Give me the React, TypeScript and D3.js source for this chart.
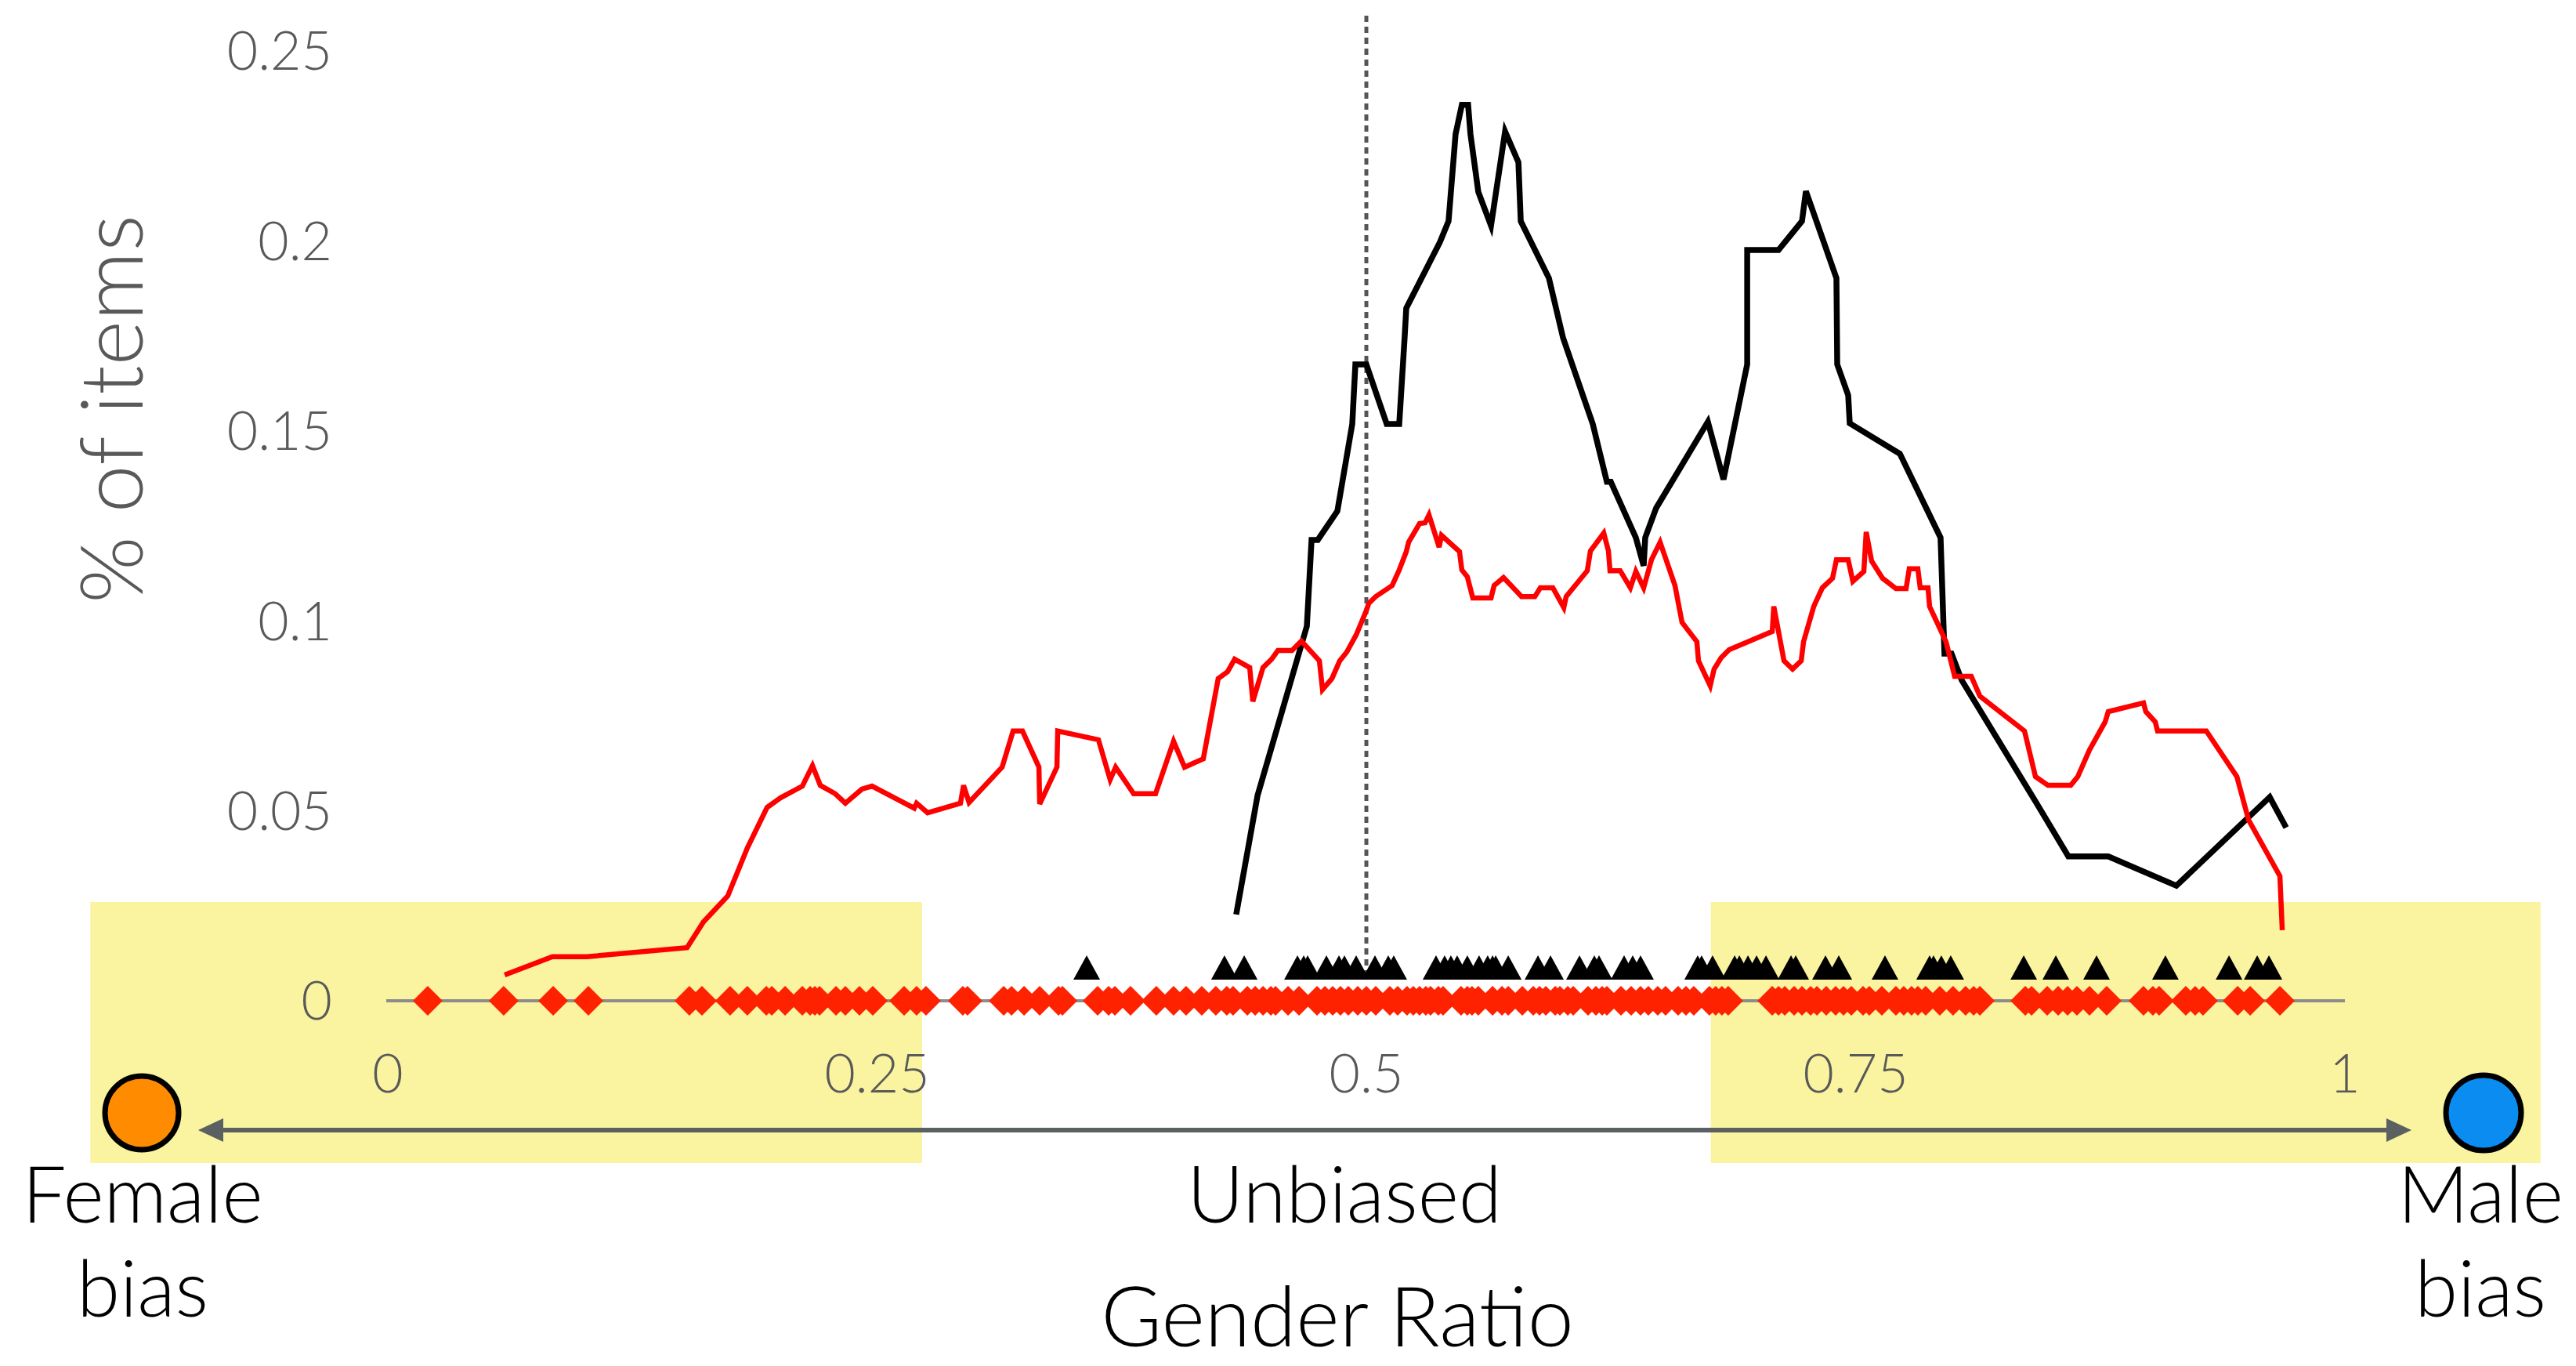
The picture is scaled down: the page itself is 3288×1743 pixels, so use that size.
import React from 'react';
import * as d3 from 'd3';

// red series: gender ratio (x) and share of items (y)
const redRatio = [0.0597, 0.0841, 0.1017, 0.1529, 0.1613, 0.1737, 0.1837, 0.1938, 0.2006, 0.2118, 0.2170, 0.2210, 0.2286, 0.2338, 0.2422, 0.2474, 0.2690, 0.2702, 0.2758, 0.2926, 0.2942, 0.2970, 0.3139, 0.3195, 0.3243, 0.3327, 0.3331, 0.3419, 0.3423, 0.3631, 0.3691, 0.3719, 0.3811, 0.3923, 0.4015, 0.4071, 0.4167, 0.4243, 0.4291, 0.4327, 0.4404, 0.4420, 0.4472, 0.4516, 0.4548, 0.4620, 0.4668, 0.4760, 0.4776, 0.4824, 0.4864, 0.4900, 0.4948, 0.5000, 0.5012, 0.5048, 0.5132, 0.5168, 0.5204, 0.5216, 0.5272, 0.5300, 0.5320, 0.5372, 0.5384, 0.5476, 0.5488, 0.5516, 0.5544, 0.5637, 0.5653, 0.5701, 0.5793, 0.5861, 0.5889, 0.5953, 0.6009, 0.6021, 0.6129, 0.6145, 0.6213, 0.6237, 0.6245, 0.6297, 0.6349, 0.6377, 0.6417, 0.6457, 0.6501, 0.6577, 0.6613, 0.6689, 0.6697, 0.6757, 0.6777, 0.6813, 0.6854, 0.7074, 0.7082, 0.7134, 0.7178, 0.7222, 0.7234, 0.7286, 0.7330, 0.7382, 0.7402, 0.7462, 0.7486, 0.7542, 0.7554, 0.7582, 0.7638, 0.7706, 0.7758, 0.7774, 0.7818, 0.7830, 0.7870, 0.7878, 0.7962, 0.8006, 0.8091, 0.8135, 0.8363, 0.8419, 0.8483, 0.8599, 0.8635, 0.8695, 0.8775, 0.8791, 0.8971, 0.8983, 0.9031, 0.9043, 0.9292, 0.9448, 0.9508, 0.9668, 0.9680];
const redShare = [0.0068, 0.0116, 0.0116, 0.0140, 0.0208, 0.0276, 0.0402, 0.0509, 0.0534, 0.0565, 0.0619, 0.0567, 0.0545, 0.0520, 0.0557, 0.0565, 0.0507, 0.0520, 0.0495, 0.0520, 0.0567, 0.0522, 0.0615, 0.0710, 0.0710, 0.0615, 0.0518, 0.0615, 0.0710, 0.0687, 0.0582, 0.0615, 0.0545, 0.0545, 0.0683, 0.0615, 0.0637, 0.0848, 0.0866, 0.0899, 0.0877, 0.0788, 0.0877, 0.0899, 0.0922, 0.0922, 0.0947, 0.0895, 0.0819, 0.0848, 0.0895, 0.0918, 0.0963, 0.1027, 0.1046, 0.1064, 0.1093, 0.1134, 0.1182, 0.1207, 0.1256, 0.1258, 0.1279, 0.1194, 0.1225, 0.1182, 0.1134, 0.1116, 0.1060, 0.1060, 0.1093, 0.1114, 0.1064, 0.1064, 0.1087, 0.1087, 0.1035, 0.1064, 0.1132, 0.1184, 0.1231, 0.1184, 0.1132, 0.1132, 0.1087, 0.1130, 0.1087, 0.1161, 0.1207, 0.1093, 0.0996, 0.0945, 0.0895, 0.0829, 0.0873, 0.0903, 0.0924, 0.0972, 0.1038, 0.0895, 0.0873, 0.0895, 0.0945, 0.1038, 0.1087, 0.1112, 0.1161, 0.1161, 0.1104, 0.1130, 0.1234, 0.1157, 0.1112, 0.1085, 0.1085, 0.1137, 0.1137, 0.1087, 0.1087, 0.1038, 0.0945, 0.0854, 0.0854, 0.0802, 0.0710, 0.0590, 0.0567, 0.0567, 0.0590, 0.0660, 0.0734, 0.0761, 0.0784, 0.0761, 0.0734, 0.0710, 0.0710, 0.0590, 0.0476, 0.0328, 0.0186];

// black series
const blackRatio = [0.4335, 0.4444, 0.4696, 0.4720, 0.4752, 0.4852, 0.4928, 0.4944, 0.5000, 0.5104, 0.5168, 0.5196, 0.5204, 0.5376, 0.5420, 0.5456, 0.5488, 0.5520, 0.5532, 0.5572, 0.5637, 0.5709, 0.5777, 0.5789, 0.5933, 0.6005, 0.6157, 0.6229, 0.6249, 0.6377, 0.6417, 0.6425, 0.6481, 0.6745, 0.6825, 0.6946, 0.6946, 0.7106, 0.7226, 0.7246, 0.7402, 0.7406, 0.7462, 0.7470, 0.7706, 0.7726, 0.7934, 0.7954, 0.7990, 0.8042, 0.8427, 0.8587, 0.8791, 0.9139, 0.9616, 0.9700];
const blackShare = [0.0227, 0.0540, 0.0986, 0.1213, 0.1213, 0.1289, 0.1518, 0.1675, 0.1675, 0.1518, 0.1518, 0.1749, 0.1823, 0.1997, 0.2052, 0.2281, 0.2358, 0.2358, 0.2281, 0.2129, 0.2040, 0.2288, 0.2207, 0.2052, 0.1902, 0.1745, 0.1518, 0.1366, 0.1366, 0.1219, 0.1145, 0.1219, 0.1297, 0.1524, 0.1372, 0.1675, 0.1976, 0.1976, 0.2052, 0.2131, 0.1902, 0.1675, 0.1594, 0.1520, 0.1446, 0.1440, 0.1219, 0.0914, 0.0914, 0.0844, 0.0518, 0.0380, 0.0380, 0.0303, 0.0536, 0.0456];

// individual items on the ratio axis
const redItems = [0.0204, 0.0592, 0.0845, 0.1025, 0.1541, 0.1605, 0.1749, 0.1837, 0.1934, 0.1962, 0.2030, 0.2118, 0.2158, 0.2182, 0.2206, 0.2290, 0.2338, 0.2410, 0.2478, 0.2638, 0.2702, 0.2750, 0.2938, 0.2962, 0.3147, 0.3187, 0.3251, 0.3331, 0.3427, 0.3447, 0.3627, 0.3683, 0.3715, 0.3795, 0.3927, 0.4015, 0.4079, 0.4159, 0.4231, 0.4287, 0.4319, 0.4392, 0.4432, 0.4472, 0.4512, 0.4536, 0.4600, 0.4656, 0.4748, 0.4788, 0.4828, 0.4868, 0.4908, 0.4956, 0.5000, 0.5048, 0.5120, 0.5160, 0.5208, 0.5240, 0.5272, 0.5304, 0.5328, 0.5368, 0.5392, 0.5484, 0.5516, 0.5540, 0.5572, 0.5645, 0.5693, 0.5725, 0.5797, 0.5853, 0.5885, 0.5917, 0.5965, 0.5989, 0.6029, 0.6057, 0.6133, 0.6173, 0.6205, 0.6229, 0.6301, 0.6353, 0.6401, 0.6441, 0.6489, 0.6529, 0.6593, 0.6633, 0.6673, 0.6753, 0.6785, 0.6817, 0.6849, 0.7074, 0.7106, 0.7138, 0.7186, 0.7226, 0.7270, 0.7302, 0.7350, 0.7398, 0.7438, 0.7478, 0.7538, 0.7570, 0.7634, 0.7706, 0.7746, 0.7786, 0.7818, 0.7858, 0.7930, 0.7998, 0.8062, 0.8103, 0.8135, 0.8367, 0.8399, 0.8479, 0.8535, 0.8583, 0.8631, 0.8695, 0.8783, 0.8971, 0.9019, 0.9051, 0.9187, 0.9235, 0.9275, 0.9452, 0.9516, 0.9668];
const blackItems = [0.3571, 0.4275, 0.4376, 0.4648, 0.4680, 0.4700, 0.4796, 0.4860, 0.4888, 0.4948, 0.5044, 0.5112, 0.5140, 0.5356, 0.5400, 0.5432, 0.5464, 0.5516, 0.5576, 0.5620, 0.5645, 0.5661, 0.5725, 0.5877, 0.5941, 0.6089, 0.6165, 0.6189, 0.6317, 0.6361, 0.6401, 0.6693, 0.6713, 0.6769, 0.6882, 0.6906, 0.6950, 0.6994, 0.7042, 0.7170, 0.7194, 0.7346, 0.7414, 0.7650, 0.7878, 0.7898, 0.7938, 0.7986, 0.8359, 0.8523, 0.8731, 0.9083, 0.9408, 0.9552, 0.9612];

const yTicks = [0, 0.05, 0.1, 0.15, 0.2, 0.25];
const yTickLabels = ['0', '0.05', '0.1', '0.15', '0.2', '0.25'];
const xTicks = [0, 0.25, 0.5, 0.75, 1];
const xTickLabels = ['0', '0.25', '0.5', '0.75', '1'];
const biasZones = [[-0.152, 0.273], [0.676, 1.100]];

const W = 3288;
const H = 1743;
const FONT = 'Lato, "Open Sans", sans-serif';

export default function App() {
  const x = d3.scaleLinear().domain([0, 1]).range([495, 2993]);
  const y = d3.scaleLinear().domain([0, 0.25]).range([1277, 65]);
  const y0 = y(0);

  const line = d3.line<[number, number]>()
    .x(d => x(d[0]))
    .y(d => y(d[1]));

  const redPath = line(redRatio.map((r, i) => [r, redShare[i]] as [number, number]));
  const blackPath = line(blackRatio.map((r, i) => [r, blackShare[i]] as [number, number]));

  const diamond = (cx: number, cy: number, s: number) =>
    `M${cx},${cy - s}L${cx + s},${cy}L${cx},${cy + s}L${cx - s},${cy}Z`;
  const triangle = (cx: number, base: number, hw: number, h: number) =>
    `M${cx - hw},${base}L${cx},${base - h}L${cx + hw},${base}Z`;

  const arrowY = 1442;
  const arrowL = 253;
  const arrowR = 3078;

  return (
    <svg width={W} height={H} style={{ position: 'absolute', left: 0, top: 0, display: 'block', background: '#fff' }}>
      {/* bias zones */}
      {biasZones.map((z, i) => (
        <rect key={i} x={x(z[0])} y={1151} width={x(z[1]) - x(z[0])} height={333} fill="#faf3a0" />
      ))}

      {/* y tick labels */}
      {yTicks.map((t, i) => (
        <text key={'y' + i} x={424} y={y(t)} dy="0.36em" textAnchor="end"
          fontFamily={FONT} fontWeight={300} fontSize={68} fill="#595959">{yTickLabels[i]}</text>
      ))}
      <text transform={`translate(142,522) rotate(-90)`} dy="0.36em" textAnchor="middle"
        fontFamily={FONT} fontWeight={300} fontSize={110} fill="#595959">% of items</text>

      {/* x tick labels */}
      {xTicks.map((t, i) => (
        <text key={'x' + i} x={x(t)} y={1370} dy="0.36em" textAnchor="middle"
          fontFamily={FONT} fontWeight={300} fontSize={68} fill="#595959">{xTickLabels[i]}</text>
      ))}

      {/* baseline */}
      <line x1={x(0) - 2} x2={x(1)} y1={y0} y2={y0} stroke="#8c8c8c" strokeWidth={4} />

      {/* unbiased marker */}
      <line x1={x(0.5)} x2={x(0.5)} y1={20} y2={1252} stroke="#555" strokeWidth={5} strokeDasharray="8 6" />

      {/* curves */}
      <path d={blackPath || ''} fill="none" stroke="#000" strokeWidth={7.5} strokeLinejoin="miter" />
      <path d={redPath || ''} fill="none" stroke="#ff0000" strokeWidth={6.5} strokeLinejoin="miter" />

      {/* items */}
      {blackItems.map((v, i) => (
        <path key={'t' + i} d={triangle(x(v), y0 - 27, 17, 31)} fill="#000" />
      ))}
      {redItems.map((v, i) => (
        <path key={'d' + i} d={diamond(x(v), y0, 19)} fill="#ff2200" />
      ))}

      {/* gender direction arrow */}
      <line x1={arrowL + 25} x2={arrowR - 25} y1={arrowY} y2={arrowY} stroke="#5b6060" strokeWidth={6} />
      <path d={`M${arrowL},${arrowY}L${arrowL + 32},${arrowY - 15}L${arrowL + 32},${arrowY + 15}Z`} fill="#5b6060" />
      <path d={`M${arrowR},${arrowY}L${arrowR - 32},${arrowY - 15}L${arrowR - 32},${arrowY + 15}Z`} fill="#5b6060" />
      <circle cx={181} cy={1420} r={47} fill="#ff8c00" stroke="#000" strokeWidth={7} />
      <circle cx={3170} cy={1420} r={48} fill="#0a8cf0" stroke="#000" strokeWidth={7} />

      {/* labels */}
      <text x={182} y={1560} textAnchor="middle" fontFamily={FONT} fontWeight={300} fontSize={100} fill="#000">Female</text>
      <text x={182} y={1680} textAnchor="middle" fontFamily={FONT} fontWeight={300} fontSize={100} fill="#000">bias</text>
      <text x={1716} y={1560} textAnchor="middle" fontFamily={FONT} fontWeight={300} fontSize={100} fill="#000">Unbiased</text>
      <text x={1707} y={1718} textAnchor="middle" fontFamily={FONT} fontWeight={300} fontSize={106} fill="#000">Gender Ratio</text>
      <text x={3166} y={1560} textAnchor="middle" fontFamily={FONT} fontWeight={300} fontSize={100} fill="#000">Male</text>
      <text x={3166} y={1680} textAnchor="middle" fontFamily={FONT} fontWeight={300} fontSize={100} fill="#000">bias</text>
    </svg>
  );
}
